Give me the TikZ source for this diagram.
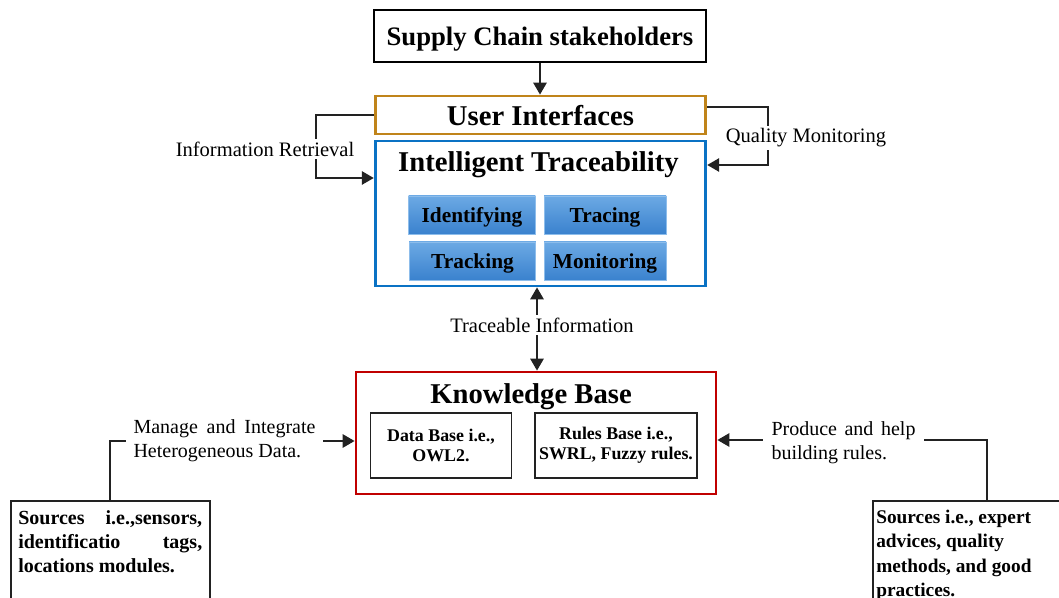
\documentclass[tikz,border=0pt]{standalone}
\usepackage{fontspec}
\setmainfont{Liberation Serif}
\usetikzlibrary{positioning,arrows.meta,calc}
\definecolor{uiorange}{HTML}{C0841A}
\definecolor{itblue}{HTML}{0A72C4}
\definecolor{kbred}{HTML}{C00000}
\definecolor{tasktop}{HTML}{6CA9E4}
\definecolor{taskbot}{HTML}{3A82CE}
\definecolor{taskedge}{HTML}{8DBDEB}
\definecolor{linegray}{HTML}{222222}
\tikzstyle{outer} = [draw, line width=2.1pt, inner sep=0pt, text depth=0pt, font=\bfseries\fontsize{21.5}{25}\selectfont]
\tikzstyle{task} = [draw=taskedge, line width=0.6pt, top color=tasktop, bottom color=taskbot, minimum height=28.5pt, inner sep=0pt, text depth=0pt, font=\bfseries\fontsize{16}{19}\selectfont]
\tikzstyle{kbpart} = [draw=linegray, line width=1.4pt, align=center, inner sep=0pt, minimum height=48.75pt, font=\bfseries\fontsize{13.4}{15}\selectfont]
\tikzstyle{lbl} = [fill=white, inner xsep=1pt, inner ysep=2pt, font=\fontsize{15.4}{18}\selectfont]
\tikzstyle{sidetext} = [align=justify, inner ysep=0pt, font=\fontsize{15}{18}\selectfont]
\tikzstyle{source} = [draw=linegray, line width=1.4pt, anchor=north west, inner ysep=7pt, font=\bfseries\fontsize{15}{18}\selectfont]
\tikzstyle{conn} = [draw=linegray, line width=1.5pt]
\tikzstyle{flow} = [conn, -{Triangle[length=9pt,width=10pt]}]

\begin{document}
\begin{tikzpicture}[x=0.75pt,y=-0.75pt]
      \useasboundingbox (0,0) rectangle (1059,598);
      %%%%%%%%%%%%%%%%%%%%%%%%%%%%%%%%%%%%%%%
      % upper part
      \draw (540,36) node (sc) [outer, minimum width=249pt, minimum height=39pt, font=\bfseries\fontsize{20}{24}\selectfont] {Supply Chain stakeholders};
      \draw (540.5,115) node (ui) [outer, draw=uiorange, minimum width=248pt, minimum height=28.5pt] {User Interfaces};
      \draw (540.5,213.5) node (it) [outer, draw=itblue, minimum width=248pt, minimum height=108.75pt] {};
      \node (ittitle) at (538.5,164.5) [font=\bfseries\fontsize{21.5}{25}\selectfont] {Intelligent Traceability};
      \draw (472,215) node (ident) [task, minimum width=95pt] {Identifying};
      \draw (605,215) node (trac) [task, minimum width=91.5pt] {Tracing};
      \draw (472.5,261) node (track) [task, minimum width=95pt] {Tracking};
      \draw (605,261) node (monit) [task, minimum width=91.5pt] {Monitoring};
      \draw[flow] (sc.south) -- (sc.south |- ui.north);
      %\draw[flow] (sc) -- (ui);
      % feedback loops
      \coordinate (irtop) at (316,115);
      \coordinate (irbot) at (316,178);
      \draw[flow] (ui.west) -- (irtop) -- (irbot) -- (irbot -| it.west);
      \node (irlbl) [lbl] at (265,149) {Information Retrieval};
      \coordinate (qmtop) at (768,107);
      \coordinate (qmbot) at (768,165);
      \draw[flow] (ui.east |- qmtop) -- (qmtop) -- (qmbot) -- (qmbot -| it.east);
      \node (qmlbl) [lbl] at (806,138) {Quality Monitoring};
      %%%%%%%%%%%%%%%%%%%%%%%%%%%%%%%%%%%%%%%
      % knowledge base
      \draw (536,433) node (kb) [outer, draw=kbred, minimum width=270pt, minimum height=91.5pt] {};
      \node (kbtitle) at (531,396.5) [font=\bfseries\fontsize{21.5}{25}\selectfont] {Knowledge Base};
      \draw (441,445.5) node (db) [kbpart, minimum width=105.75pt] {Data Base i.e.,\\OWL2.};
      \draw (616,445.5) node (rb) [kbpart, minimum width=121.5pt] {Rules Base i.e.,\\SWRL, Fuzzy rules.};
      \coordinate (trx) at (537,0);
      \draw[conn, {Triangle[length=9pt,width=10pt]}-{Triangle[length=9pt,width=10pt]}] (it.south -| trx) -- (kb.north -| trx);
      \node (trlbl) [lbl] at (542,325) {Traceable Information};
      %%%%%%%%%%%%%%%%%%%%%%%%%%%%%%%%%%%%%%%
      % sources
      \node (lbl1) at (224.5,441) [sidetext, text width=136.5pt, inner xsep=5.5pt] {Manage and Integrate\linebreak Heterogeneous Data.};
      \draw (10,500) node (src1) [source, inner xsep=5.5pt] {\parbox[t][100pt][t]{138pt}{Sources i.e.,sensors,\linebreak identificatio tags,\linebreak locations modules.}};
      \draw[conn] (src1.north) |- (lbl1.west);
      \draw[flow] (lbl1.east) -- (lbl1.east -| kb.west);
      \node (lbl2) at (843.5,443) [sidetext, text width=108pt, inner xsep=6.5pt] {Produce and help\linebreak building rules.};
      \draw (872,500) node (src2) [source, inner xsep=2.5pt, font=\bfseries\fontsize{14.5}{18.2}\selectfont] {\parbox[t][100pt][t]{150pt}{\raggedright Sources i.e., expert\\advices, quality\\methods, and good\\practices.}};
      \coordinate (rjoin) at (987,440);
      \draw[conn] (src2.north -| rjoin) -- (rjoin) -- (rjoin -| lbl2.east);
      \draw[flow] (lbl2.west |- rjoin) -- (rjoin -| kb.east);
\end{tikzpicture}
\end{document}
